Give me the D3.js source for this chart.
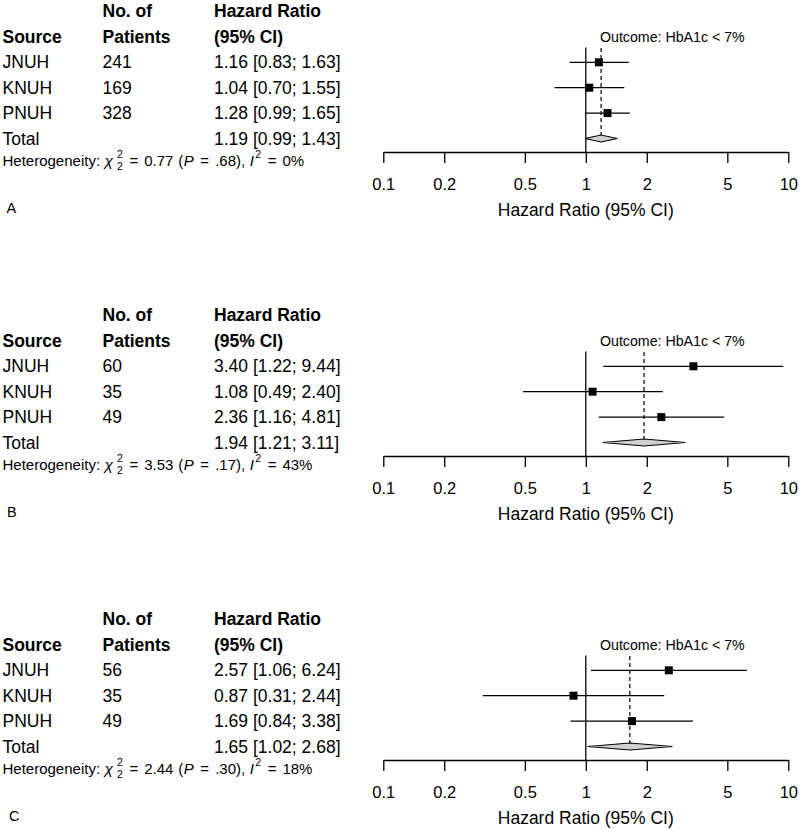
<!DOCTYPE html>
<html><head><meta charset="utf-8">
<script src="https://cdn.jsdelivr.net/npm/d3@7"></script>
<style>
body{margin:0;background:#fff}
svg{display:block}
text{font-family:"Liberation Sans",Arial,sans-serif;fill:#000;white-space:pre}
</style>
</head><body><svg id="c" width="800" height="829"></svg>
<script>
// ---------- data ----------
const panelLabels = ["A", "B", "C"];
const sources = ["JNUH", "KNUH", "PNUH"];

const patientsA = [241, 169, 328];
const hrA = [1.16, 1.04, 1.28];
const lowerA = [0.83, 0.70, 0.99];
const upperA = [1.63, 1.55, 1.65];
const totalA = [1.19, 0.99, 1.43];

const patientsB = [60, 35, 49];
const hrB = [3.40, 1.08, 2.36];
const lowerB = [1.22, 0.49, 1.16];
const upperB = [9.44, 2.40, 4.81];
const totalB = [1.94, 1.21, 3.11];

const patientsC = [56, 35, 49];
const hrC = [2.57, 0.87, 1.69];
const lowerC = [1.06, 0.31, 0.84];
const upperC = [6.24, 2.44, 3.38];
const totalC = [1.65, 1.02, 2.68];

const hetChi = ["0.77", "3.53", "2.44"];
const hetP = [".68", ".17", ".30"];
const hetI2 = ["0%", "43%", "18%"];

const tickValues = [0.1, 0.2, 0.5, 1, 2, 5, 10];
const tickLabels = ["0.1", "0.2", "0.5", "1", "2", "5", "10"];
const outcomeLabel = "Outcome: HbA1c < 7%";
const axisTitle = "Hazard Ratio (95% CI)";

// ---------- build ----------
const panels = [
  {patients: patientsA, hr: hrA, lo: lowerA, hi: upperA, total: totalA},
  {patients: patientsB, hr: hrB, lo: lowerB, hi: upperB, total: totalB},
  {patients: patientsC, hr: hrC, lo: lowerC, hi: upperC, total: totalC}
];
const panelTop = [0, 304, 608];
const labelX = [6.5, 7, 9];

const svg = d3.select("#c");
const x = d3.scaleLog().domain([0.1, 10]).range([383.3, 788.3]);
const fmt = d3.format(".2f");
const rowY = i => 62.3 + i * 25.4;
const totalY = rowY(3);
const axisY = 152;

const colSrc = 2.5, colN = 102.5, colHR = 214;
const fsTable = 17.5;

// sequential rich text: each part has gap before it, optional dy, optional noAdvance
function rich(g, x0, y, parts) {
  let cx = x0;
  parts.forEach(p => {
    cx += (p.gap || 0);
    const t = g.append("text")
      .attr("x", cx).attr("y", y + (p.dy || 0))
      .attr("font-size", p.size)
      .attr("font-style", p.italic ? "italic" : null)
      .attr("dominant-baseline", "central")
      .text(p.t);
    if (!p.noAdvance) cx += t.node().getComputedTextLength();
  });
}

panels.forEach((p, k) => {
  const g = svg.append("g").attr("transform", `translate(0,${panelTop[k]})`);

  // headers
  const hdr = [
    {t: "No. of", x: colN, y: 11},
    {t: "Hazard Ratio", x: colHR, y: 11},
    {t: "Source", x: colSrc, y: 36.8},
    {t: "Patients", x: colN, y: 36.8},
    {t: "(95% CI)", x: colHR, y: 36.8}
  ];
  g.selectAll("text.hdr").data(hdr).join("text").attr("class", "hdr")
    .attr("x", d => d.x).attr("y", d => d.y)
    .attr("dominant-baseline", "central")
    .attr("font-size", fsTable).attr("font-weight", "bold")
    .text(d => d.t);

  // study rows
  const rows = sources.map((s, i) => ({s, n: p.patients[i], hr: p.hr[i], lo: p.lo[i], hi: p.hi[i], y: rowY(i)}));
  rows.forEach(r => {
    g.append("text").attr("x", colSrc).attr("y", r.y).attr("dominant-baseline", "central").attr("font-size", fsTable).text(r.s);
    g.append("text").attr("x", colN).attr("y", r.y).attr("dominant-baseline", "central").attr("font-size", fsTable).text(r.n);
    g.append("text").attr("x", colHR).attr("y", r.y).attr("dominant-baseline", "central").attr("font-size", fsTable)
      .text(`${fmt(r.hr)} [${fmt(r.lo)}; ${fmt(r.hi)}]`);
  });
  g.append("text").attr("x", colSrc).attr("y", totalY).attr("dominant-baseline", "central").attr("font-size", fsTable).text("Total");
  g.append("text").attr("x", colHR).attr("y", totalY).attr("dominant-baseline", "central").attr("font-size", fsTable)
    .text(`${fmt(p.total[0])} [${fmt(p.total[1])}; ${fmt(p.total[2])}]`);

  // heterogeneity (plotmath-like spacing)
  const fs = 15, fsS = 10.5;
  rich(g, 2.5, 160, [
    {t: "Heterogeneity:", size: fs},
    {t: "\u03C7", size: fs + 0.5, italic: true, gap: 4.5},
    {t: "2", size: fsS, dy: -6, gap: 4, noAdvance: true},
    {t: "2", size: fsS, dy: 6},
    {t: "=", size: fs, gap: 6.5},
    {t: hetChi[k], size: fs, gap: 6},
    {t: "(", size: fs, gap: 5},
    {t: "P", size: fs, italic: true, gap: 0.5},
    {t: "=", size: fs, gap: 6.5},
    {t: hetP[k] + "),", size: fs, gap: 6},
    {t: "I", size: fs, italic: true, gap: 4.5},
    {t: "2", size: fsS, dy: -6, gap: 1.5},
    {t: "=", size: fs, gap: 6.5},
    {t: hetI2[k], size: fs, gap: 6}
  ]);

  // panel letter
  g.append("text").attr("x", labelX[k]).attr("y", 208).attr("dominant-baseline", "central")
    .attr("font-size", 14.5).text(panelLabels[k]);

  // outcome label
  g.append("text").attr("x", 600).attr("y", 36.7).attr("dominant-baseline", "central")
    .attr("font-size", 14.2).text(outcomeLabel);

  // axis
  const ax = g.append("g").attr("transform", `translate(0,${axisY})`)
    .call(d3.axisBottom(x).tickValues(tickValues).tickFormat((d, i) => tickLabels[i])
      .tickSize(11).tickSizeOuter(0).tickPadding(15));
  ax.attr("font-family", null).attr("font-size", null);
  ax.selectAll("path,line").attr("stroke", "#000").attr("stroke-width", 1.3);
  ax.selectAll("text").attr("font-size", 16.5).attr("fill", "#000");

  g.append("text").attr("x", x(1)).attr("y", 210).attr("text-anchor", "middle")
    .attr("dominant-baseline", "central").attr("font-size", 17.5).text(axisTitle);

  // null line
  g.append("line").attr("x1", x(1)).attr("x2", x(1)).attr("y1", 47.5).attr("y2", axisY)
    .attr("stroke", "#000").attr("stroke-width", 1.3);

  // dashed pooled line
  g.append("line").attr("x1", x(p.total[0])).attr("x2", x(p.total[0]))
    .attr("y1", 48).attr("y2", totalY - 3.5)
    .attr("stroke", "#000").attr("stroke-width", 1.2).attr("stroke-dasharray", "4,3");

  // CI lines and squares
  g.selectAll("line.ci").data(rows).join("line").attr("class", "ci")
    .attr("x1", d => x(d.lo)).attr("x2", d => x(d.hi))
    .attr("y1", d => d.y).attr("y2", d => d.y)
    .attr("stroke", "#000").attr("stroke-width", 1.3);
  const sq = 8;
  g.selectAll("rect.pt").data(rows).join("rect").attr("class", "pt")
    .attr("x", d => x(d.hr) - sq / 2).attr("y", d => d.y - sq / 2)
    .attr("width", sq).attr("height", sq).attr("fill", "#000");

  // diamond
  const h = 3.5;
  const dpath = `M${x(p.total[1])},${totalY}L${x(p.total[0])},${totalY - h}L${x(p.total[2])},${totalY}L${x(p.total[0])},${totalY + h}Z`;
  g.append("path").attr("d", dpath).attr("fill", "#d0d0d0").attr("stroke", "#000").attr("stroke-width", 1.1);
});
</script>
</body></html>
